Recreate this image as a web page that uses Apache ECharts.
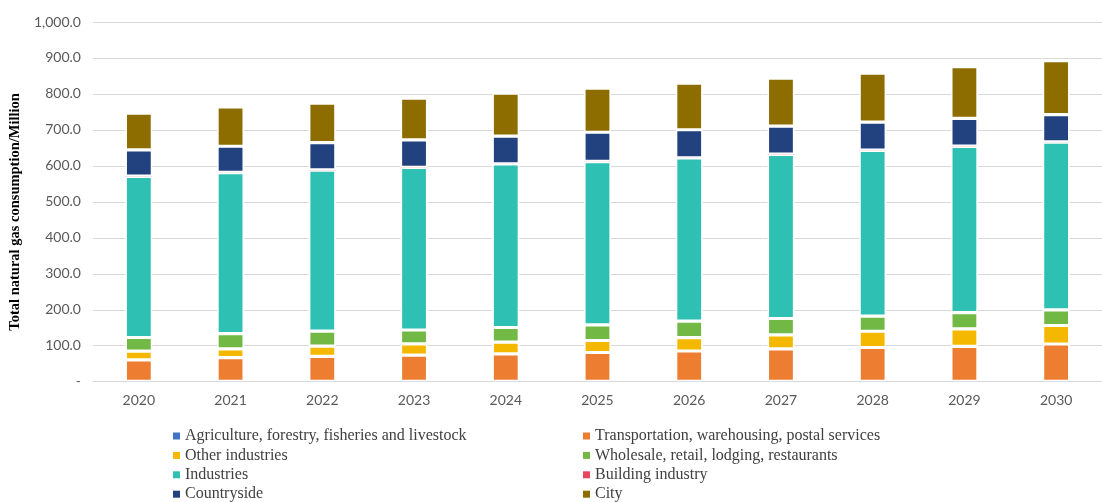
<!DOCTYPE html>
<html>
<head>
<meta charset="utf-8">
<script src="https://cdn.jsdelivr.net/npm/echarts@6/dist/echarts.min.js"></script>
<style>
html,body{margin:0;padding:0;background:#fff;}
#chart{width:1102px;height:502px;}
</style>
</head>
<body>
<div id="chart"></div>
<script>
const years = ['2020','2021','2022','2023','2024','2025','2026','2027','2028','2029','2030'];
const yTicks = [0,100,200,300,400,500,600,700,800,900,1000];
const agriculture = [0.8,0.8,0.8,0.8,0.8,0.8,0.8,0.8,0.8,0.8,0.8];
const transportation = [59.8,65.9,69.8,72.9,76.8,80.4,84.6,90.7,94.3,97.6,104.0];
const otherIndustries = [24.2,24.8,28.1,31.7,32.2,33.4,37.0,38.4,45.1,48.7,51.5];
const wholesale = [38.1,42.0,41.7,38.4,40.9,43.6,45.8,45.8,41.9,44.8,43.6];
const industries = [448.1,447.8,447.8,451.9,454.7,453.6,453.9,456.5,461.2,462.5,466.2];
const building = [0.5,0.5,0.5,0.5,0.5,0.5,0.5,0.5,0.5,0.5,0.5];
const countryside = [72.8,72.8,75.9,75.9,76.8,81.2,77.8,77.8,77.6,77.0,75.9];
const city = [102.1,109.3,109.6,116.0,119.3,122.4,129.4,133.2,136.2,144.1,150.2];

const seriesDefs = [
  {name:'Agriculture, forestry, fisheries and livestock', data:agriculture, color:'#4472C4', border:0},
  {name:'Transportation, warehousing, postal services', data:transportation, color:'#ED7D31', border:1.6},
  {name:'Other industries', data:otherIndustries, color:'#F5B800', border:1.6},
  {name:'Wholesale, retail, lodging, restaurants', data:wholesale, color:'#72B844', border:1.6},
  {name:'Industries', data:industries, color:'#2EC0B2', border:1.6},
  {name:'Building industry', data:building, color:'#E8445E', border:0},
  {name:'Countryside', data:countryside, color:'#22417F', border:1.6},
  {name:'City', data:city, color:'#8E6D00', border:1.6}
];

const chart = echarts.init(document.getElementById('chart'), null, {renderer:'canvas'});
const legendText = {fontFamily:'Liberation Serif', fontSize:16, color:'#404040'};
const legendCommon = {top:428, height:90, padding:0, orient:'vertical', itemGap:3.4, itemWidth:7, itemHeight:7, icon:'rect',
  itemStyle:{borderWidth:0}, textStyle:legendText};
const option = {
  animation:false,
  backgroundColor:'#ffffff',
  grid:{left:92, top:22, width:1019, height:359.7, containLabel:false},
  legend:[
    Object.assign({left:173, data:[seriesDefs[0].name, seriesDefs[2].name, seriesDefs[4].name, seriesDefs[6].name]}, legendCommon),
    Object.assign({left:583, data:[seriesDefs[1].name, seriesDefs[3].name, seriesDefs[5].name, seriesDefs[7].name]}, legendCommon)
  ],
  xAxis:{
    type:'category', data:years,
    axisLine:{lineStyle:{color:'#d9d9d9', width:1}},
    axisTick:{show:false},
    axisLabel:{fontFamily:'Lato', fontSize:14, color:'#595959', margin:12}
  },
  yAxis:{
    type:'value', min:yTicks[0], max:yTicks[yTicks.length-1], interval:100,
    name:'Total natural gas consumption/Million',
    nameLocation:'middle', nameGap:67,
    nameTextStyle:{fontFamily:'Liberation Serif', fontWeight:'bold', fontSize:14.5, color:'#000000', padding:[0,20,0,0]},
    axisLine:{show:false}, axisTick:{show:false},
    splitLine:{lineStyle:{color:'#d9d9d9', width:1}},
    axisLabel:{fontFamily:'Lato', fontSize:14, color:'#595959', margin:12,
      formatter:function(v){ if(v===0) return '-'; return v.toLocaleString('en-US',{minimumFractionDigits:1, maximumFractionDigits:1}); }}
  },
  series: seriesDefs.map(s=>({
    name:s.name, type:'bar', stack:'total', data:s.data, barWidth:27,
    itemStyle:{color:s.color, borderColor:'#ffffff', borderWidth:s.border}
  }))
};
chart.setOption(option);
</script>
</body>
</html>
